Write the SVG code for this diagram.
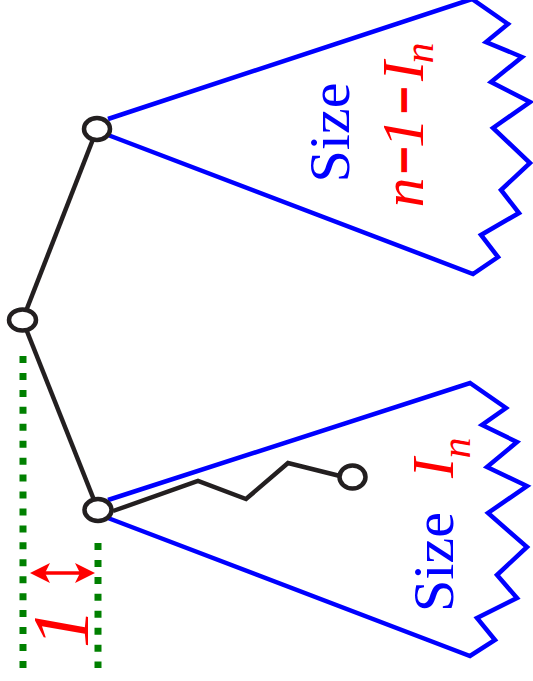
<svg xmlns="http://www.w3.org/2000/svg" width="533" height="681" viewBox="0 0 533 681">
<style>
.blue{fill:none;stroke:#0000ff;stroke-width:4.5;stroke-linejoin:miter}
.edge{fill:none;stroke:#231f20;stroke-width:4.5;stroke-linejoin:miter}
.node{fill:#fff;stroke:#231f20;stroke-width:4.5}
.dots{fill:none;stroke:#008000;stroke-width:7;stroke-dasharray:7 9.94}
.size{font-family:"Liberation Serif","Times New Roman",serif;font-size:58px;fill:#0000ff;text-anchor:middle}
.lab{font-family:"Liberation Serif","Times New Roman",serif;font-style:italic;font-size:60px;fill:#ff0000;text-anchor:middle}
.sub{font-size:42px}
.minus{font-style:normal;font-size:44px;stroke:#ff0000;stroke-width:3.5}
</style>
<defs>
<marker id="head" markerUnits="userSpaceOnUse" markerWidth="22" markerHeight="22" refX="10" refY="10" orient="auto-start-reverse">
<path d="M0,0 L20,10 L0,20 L5,10 z" fill="#ff0000"/>
</marker>
</defs>
<g id="subtree-top">
<polyline class="blue" points="108,119 472,-1 508,24 486,42 522,57 491,82 530,102 493,128 530,163 501,190 519,213 481,235 498,257 473,274 108,135"/>
<g transform="translate(349,132.5) rotate(-90)"><text class="size" x="0" y="0">Size</text></g>
<g transform="translate(423,205) rotate(-90)">
<text class="lab" x="12.5" y="0">n</text>
<text class="lab minus" x="45" y="-4">−</text>
<text class="lab" x="72" y="0">1</text>
<text class="lab minus" x="105" y="-4">−</text>
<text class="lab" x="134" y="0">I</text>
<text class="lab sub" x="152" y="10">n</text>
</g>
</g>
<g id="subtree-bottom">
<polyline class="blue" points="108,500 470,383 506,408 482,425 517,442 487,467 527,486 488,513 527,547 497,575 517,598 477,618 495,640 470,656 108,518"/>
<g transform="translate(453,562) rotate(-90)"><text class="size" x="0" y="0">Size</text></g>
<g transform="translate(453,500) rotate(-90)">
<text class="lab" x="32" y="0">I</text>
<text class="lab sub" x="52" y="17">n</text>
</g>
</g>
<g id="connectors">
<line class="edge" x1="22.5" y1="320" x2="97" y2="129"/>
<line class="edge" x1="22.5" y1="320" x2="98" y2="510"/>
<polyline class="edge" points="113,511 198,481 246,499 288,463 340,476"/>
</g>
<g id="node-root"><ellipse class="node" cx="22.5" cy="320" rx="13.5" ry="10.5"/></g>
<g id="node-top"><ellipse class="node" cx="97" cy="129" rx="13" ry="11"/></g>
<g id="node-bottom"><ellipse class="node" cx="98" cy="510" rx="13.5" ry="11"/></g>
<g id="node-deep"><ellipse class="node" cx="352.5" cy="477" rx="13" ry="11.5"/></g>
<g id="depth-marker">
<line class="dots" x1="23" y1="356" x2="23" y2="668"/>
<line class="dots" x1="98" y1="543" x2="98" y2="668"/>
<line x1="40" y1="573" x2="85" y2="573" stroke="#ff0000" stroke-width="3.5" marker-start="url(#head)" marker-end="url(#head)"/>
<g transform="translate(88,628) rotate(-90)"><text class="lab" style="font-size:80px" x="0" y="0">1</text></g>
</g>
</svg>
